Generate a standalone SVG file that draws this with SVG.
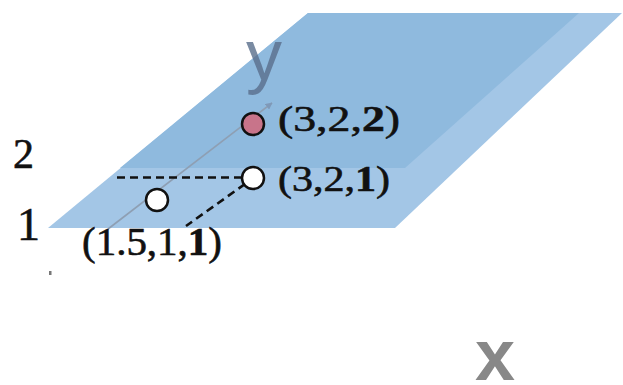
<svg xmlns="http://www.w3.org/2000/svg" width="623" height="385" viewBox="0 0 623 385">
<style>
.lbl{font-family:"Liberation Serif","Times New Roman",serif;fill:#111;stroke:#111;stroke-width:0.6}
.axis{font-family:"Liberation Sans",Arial,sans-serif}
.dash{stroke:#111;stroke-width:2.6;stroke-dasharray:8 5;fill:none}
.pt{stroke:#111;stroke-width:2.5}
</style>
<defs>
<marker id="arr" viewBox="0 0 10 10" refX="9" refY="5" markerWidth="7" markerHeight="7" orient="auto" markerUnits="userSpaceOnUse">
<path d="M0,0 L10,5 L0,10 z" fill="#7f99b8"/>
</marker>
</defs>
<rect width="623" height="385" fill="#fff"/>
<g id="plane">
<polygon points="308,13 622,13 395,228 48,228" fill="#a3c6e6"/>
<polygon points="308,13 579,13 405,168 120,168" fill="#8fbade"/>
</g>
<g id="axes">
<line x1="108" y1="229" x2="272" y2="103" stroke="#8e9fb3" stroke-width="1.6" marker-end="url(#arr)"/>
<text class="axis" x="246" y="80" font-size="72" fill="#5a6f8c" opacity="0.8">y</text>
<text class="axis" x="475" y="380" font-size="72" font-weight="bold" fill="#888">x</text>
<rect x="49" y="271" width="2.5" height="4" fill="#777"/>
<text class="lbl" x="13" y="168" font-size="42">2</text>
<text class="lbl" x="17" y="240" font-size="46">1</text>
</g>
<g id="connectors">
<line class="dash" x1="117" y1="177.5" x2="243" y2="177.5"/>
<line class="dash" x1="245" y1="184" x2="186" y2="226"/>
</g>
<g id="p322">
<circle class="pt" cx="253" cy="124" r="11" fill="#c8748a"/>
<text class="lbl" x="278" y="131" font-size="36" textLength="122" lengthAdjust="spacingAndGlyphs">(3,2,<tspan font-weight="bold">2</tspan>)</text>
</g>
<g id="p321">
<circle class="pt" cx="253" cy="178" r="11" fill="#fff"/>
<text class="lbl" x="278" y="191" font-size="36" textLength="112" lengthAdjust="spacingAndGlyphs">(3,2,<tspan font-weight="bold">1</tspan>)</text>
</g>
<g id="p1511">
<circle class="pt" cx="157" cy="200" r="11" fill="#fff"/>
<text class="lbl" x="82" y="255" font-size="40" textLength="140" lengthAdjust="spacingAndGlyphs">(1.5,1,<tspan font-weight="bold">1</tspan>)</text>
</g>
</svg>
